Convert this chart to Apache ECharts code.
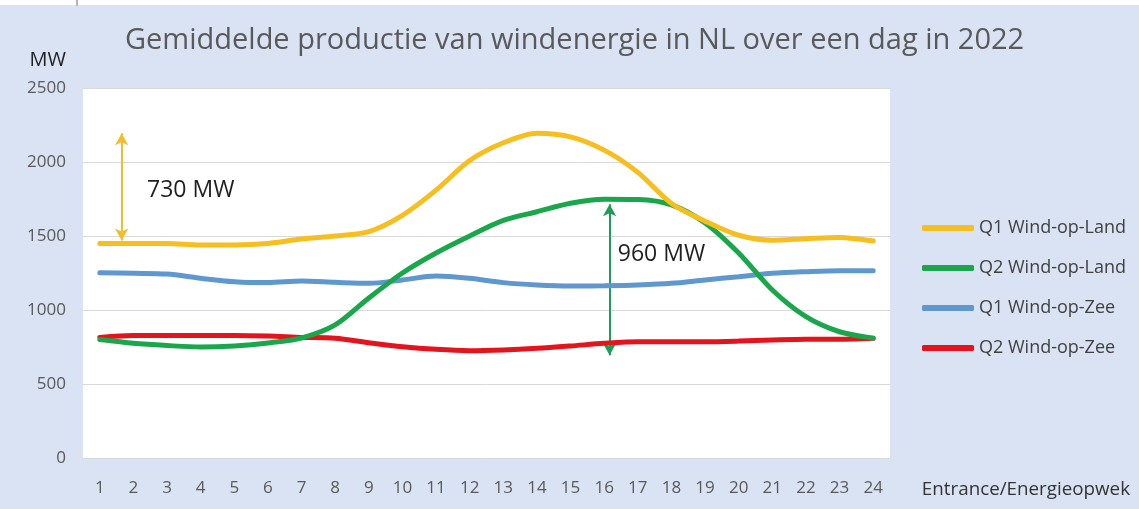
<!DOCTYPE html>
<html>
<head>
<meta charset="utf-8">
<script src="https://cdn.jsdelivr.net/npm/echarts@6/dist/echarts.min.js"></script>
<style>
html, body { margin: 0; padding: 0; }
#main1 { width: 1139px; height: 509px; }
</style>
</head>
<body>
<div id="main1"></div>
<script>
// uren van de dag
var uren = ['1','2','3','4','5','6','7','8','9','10','11','12','13','14','15','16','17','18','19','20','21','22','23','24'];

var q1Land = [1450,1450,1450,1440,1440,1450,1480,1500,1530,1640,1810,2010,2130,2195,2170,2080,1930,1720,1600,1505,1472,1482,1490,1466];
var q2Land = [800,775,760,750,757,777,811,899,1081,1250,1385,1500,1605,1664,1721,1748,1746,1710,1588,1385,1135,955,853,810];
var q1Zee  = [1252,1248,1243,1214,1191,1185,1196,1187,1180,1203,1230,1214,1185,1169,1162,1164,1169,1180,1203,1225,1248,1259,1266,1266];
var q2Zee  = [815,828,828,828,828,824,815,809,779,752,734,725,730,741,757,775,786,786,786,790,797,802,802,809];

var namen = ['Q1 Wind-op-Land','Q2 Wind-op-Land','Q1 Wind-op-Zee','Q2 Wind-op-Zee'];
var kleuren = ['#f6be1f','#1aa64a','#5e98cf','#e5131b'];

// pijlen: [uur, van, tot]
var pijlGeel  = [1.65, 1470, 2195];
var pijlGroen = [16.16, 695, 1715];
// teksten: [uur, waarde, tekst]
var tekstGeel  = [2.39, 1811, '730 MW'];
var tekstGroen = [16.39, 1378, '960 MW'];

var font = 'Open Sans';

function makeSeries(){
	var data = [q1Land, q2Land, q1Zee, q2Zee];
	var series = [];
	for (var i = 0; i < data.length; i++){
		series.push({
			name: namen[i],
			type: 'line',
			data: data[i],
			symbol: 'none',
			smooth: 0.3,
			z: 10 - i,
			lineStyle: { width: 5, color: kleuren[i], cap: 'round' },
			itemStyle: { color: kleuren[i] }
		})
	}
	// annotaties (pijlen en teksten)
	series.push({
		name: 'annotatie',
		type: 'line',
		xAxisIndex: 1,
		data: [],
		z: 20,
		markLine: {
			silent: true,
			symbol: ['arrow','arrow'],
			symbolSize: [10, 12],
			label: { show: false },
			data: [
				[{ coord: [pijlGeel[0], pijlGeel[1]], lineStyle: { color: '#f0bd2c', width: 2, type: 'solid' } },
				 { coord: [pijlGeel[0], pijlGeel[2]] }],
				[{ coord: [pijlGroen[0], pijlGroen[1]], lineStyle: { color: '#1d9e55', width: 2, type: 'solid' } },
				 { coord: [pijlGroen[0], pijlGroen[2]] }]
			]
		},
		markPoint: {
			silent: true,
			symbol: 'rect',
			symbolSize: 1,
			itemStyle: { color: 'rgba(0,0,0,0)' },
			label: {
				show: true,
				position: 'right',
				distance: 0,
				fontFamily: font,
				fontSize: 23,
				color: '#1f1f1f'
			},
			data: [
				{ coord: [tekstGeel[0], tekstGeel[1]], label: { formatter: tekstGeel[2] } },
				{ coord: [tekstGroen[0], tekstGroen[1]], label: { formatter: tekstGroen[2] } }
			]
		}
	})
	return series
}

var myChart = echarts.init(document.getElementById('main1'));

var option = {
	backgroundColor: '#dae3f3',
	animation: false,
	title: {
		text: 'Gemiddelde productie van windenergie in NL over een dag in 2022',
		left: 120,
		top: 21,
		textStyle: { fontFamily: font, fontSize: 29, fontWeight: 'normal', color: '#595959' }
	},
	legend: {
		data: namen,
		orient: 'vertical',
		left: 922,
		top: 218,
		padding: 0,
		itemWidth: 52,
		itemHeight: 6,
		itemGap: 20,
		icon: 'roundRect',
		textStyle: { fontFamily: font, fontSize: 18, color: '#404040', lineHeight: 20 }
	},
	grid: {
		left: 83,
		right: 249,
		top: 88,
		bottom: 51,
		show: true,
		backgroundColor: '#ffffff',
		borderWidth: 0,
		containLabel: false
	},
	xAxis: [
		{
			type: 'category',
			data: uren,
			boundaryGap: true,
			axisLine: { show: false },
			axisTick: { show: false },
			axisLabel: { margin: 22, fontFamily: font, fontSize: 17, color: '#595959' }
		},
		{
			type: 'value',
			min: 0.5,
			max: 24.5,
			show: false
		}
	],
	yAxis: [
		{
			type: 'value',
			name: 'MW',
			nameLocation: 'end',
			nameGap: 18,
			nameTextStyle: { fontFamily: font, fontSize: 20, color: '#1f1f1f', align: 'right', padding: [0, 17, 0, 0] },
			min: 0,
			max: 2500,
			interval: 500,
			axisLine: { show: false },
			axisTick: { show: false },
			axisLabel: {
				margin: 17,
				fontFamily: font,
				fontSize: 17,
				color: '#595959',
				formatter: function (v) { return String(v); }
			},
			splitLine: { lineStyle: { color: '#d9d9d9', width: 1 } }
		}
	],
	graphic: [
		{ type: 'rect', left: 0, top: 0, shape: { width: 1139, height: 5 }, style: { fill: '#ffffff' } },
		{ type: 'line', shape: { x1: 77, y1: 0, x2: 77, y2: 6 }, style: { stroke: '#b4b4b4', lineWidth: 2 } },
		{ type: 'text', right: 9, top: 480, style: { text: 'Entrance/Energieopwek', fontFamily: font, fontSize: 18.8, fill: '#333333' } }
	],
	series: makeSeries()
};

myChart.setOption(option);
</script>
</body>
</html>
